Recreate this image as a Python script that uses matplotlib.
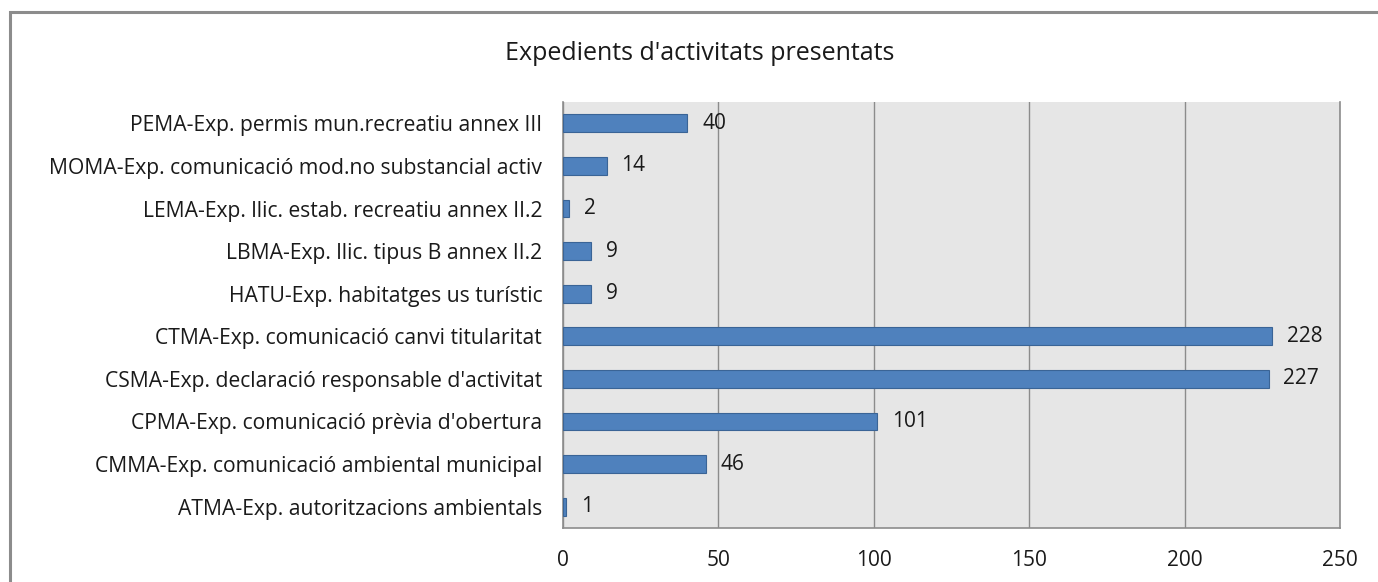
import matplotlib
matplotlib.use("Agg")
import matplotlib.pyplot as plt
from matplotlib.patches import Rectangle

categories = [
    "ATMA-Exp. autoritzacions ambientals",
    "CMMA-Exp. comunicació ambiental municipal",
    "CPMA-Exp. comunicació prèvia d'obertura",
    "CSMA-Exp. declaració responsable d'activitat",
    "CTMA-Exp. comunicació canvi titularitat",
    "HATU-Exp. habitatges us turístic",
    "LBMA-Exp. llic. tipus B annex II.2",
    "LEMA-Exp. llic. estab. recreatiu annex II.2",
    "MOMA-Exp. comunicació mod.no substancial activ",
    "PEMA-Exp. permis mun.recreatiu annex III",
]
values = [1, 46, 101, 227, 228, 9, 9, 2, 14, 40]
xticks = [0, 50, 100, 150, 200, 250]
title = "Expedients d'activitats presentats"

plt.rcParams['font.family'] = ['Open Sans', 'DejaVu Sans']

W, H = 1378, 582
fig = plt.figure(figsize=(W / 100, H / 100), dpi=100)
fig.patch.set_facecolor("white")

# outer chart border (cropped on right/bottom)
fig.add_artist(Rectangle((10 / W, -0.1), 1.2, 1 - 12 / H + 0.1,
                         transform=fig.transFigure, fill=False,
                         edgecolor="#8C8C8C", linewidth=2.2))

ax = fig.add_axes([563 / W, 1 - 528 / H, (1340 - 563) / W, (528 - 102) / H])
ax.set_facecolor("#E6E6E6")

y = range(len(categories))
ax.barh(list(y), values, height=0.42, color="#4F81BD", edgecolor="#3A6496",
        linewidth=0.8, zorder=3)
for yi, v in zip(y, values):
    ax.text(v + 4.8, yi, str(v), va="center", ha="left", fontsize=15,
            color="#1A1A1A", zorder=4)

ax.set_xlim(0, 250)
ax.set_ylim(-0.5, len(categories) - 0.5)
ax.set_xticks(xticks)
ax.set_xticklabels([str(t) for t in xticks], fontsize=15, color="#1A1A1A")
ax.set_yticks(list(y))
ax.set_yticklabels(categories, fontsize=15.2, color="#1A1A1A")
ax.tick_params(axis="both", length=0)
ax.tick_params(axis="x", pad=16)
ax.tick_params(axis="y", pad=15)
ax.xaxis.grid(True, color="#8C8C8C", linewidth=1.0, zorder=1)
ax.set_axisbelow(True)
ax.spines["top"].set_visible(False)
for s in ["left", "bottom", "right"]:
    ax.spines[s].set_color("#8C8C8C")
    ax.spines[s].set_linewidth(1.2)

fig.text(700 / W, 1 - 54 / H, title, ha="center", va="center",
         fontsize=18, color="#1A1A1A")

fig.savefig("out.png", dpi=100)
